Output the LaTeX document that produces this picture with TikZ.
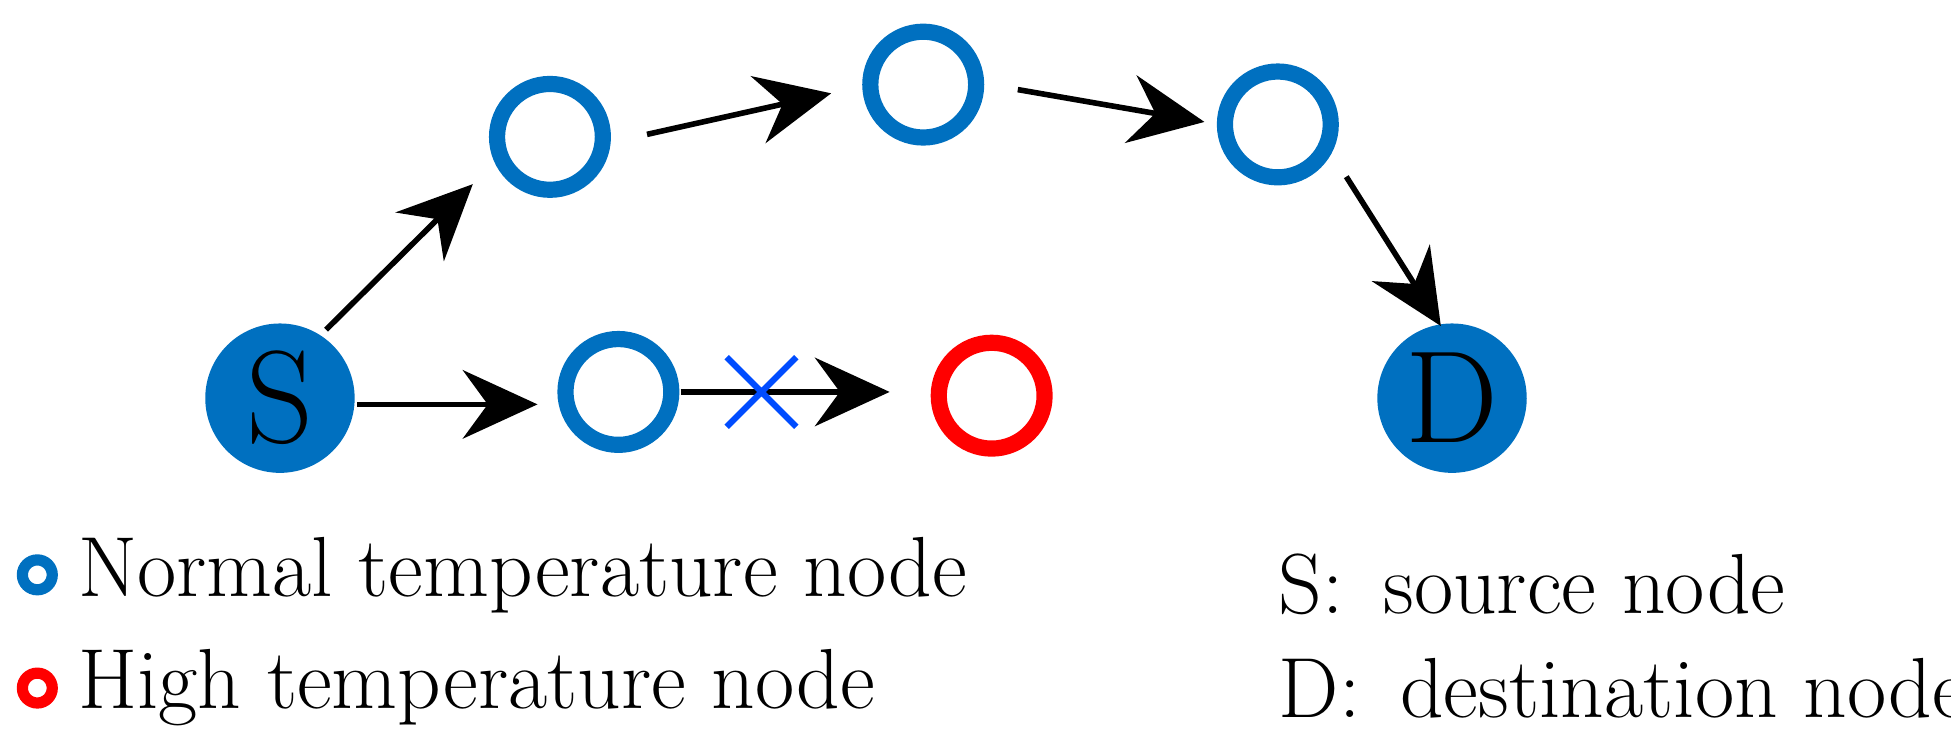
\documentclass[tikz,border=0pt]{standalone}
\usetikzlibrary{arrows.meta,calc}
\definecolor{nb}{HTML}{0070C0}
\begin{document}
\begin{tikzpicture}[x=0.01cm,y=-0.01cm,
  ring/.style={circle,draw=nb,line width=1.3mm,minimum size=0.85cm,inner sep=0},
  hot/.style={ring,draw=red},
  full/.style={circle,fill=nb,minimum size=1.2cm,inner sep=0,font=\fontsize{30}{32}\selectfont},
  arr/.style={line width=0.45mm,-{Stealth[length=6mm,width=5.5mm,inset=2mm]}},
  lab/.style={anchor=west,inner sep=0,font=\fontsize{19.5}{24}\selectfont}]
\useasboundingbox (0,0) rectangle (1568,600);
\node[full] (s) at (225,320) {S};
\node[full] (d) at (1167,320) {D};
\node[ring] (t1) at (442,110) {};
\node[ring] (t2) at (742,68) {};
\node[ring] (t3) at (1027,100) {};
\node[ring] (m) at (497,315) {};
\node[hot] (r) at (797,318) {};
\coordinate (a1) at (262,265); \coordinate (b1) at (380,148);
\coordinate (a2) at (520,108); \coordinate (b2) at (668,75);
\coordinate (a3) at (818,72); \coordinate (b3) at (968,98);
\coordinate (a4) at (1082,142); \coordinate (b4) at (1158,262);
\coordinate (a5) at (287,325); \coordinate (b5) at (432,325);
\coordinate (a6) at (547,315); \coordinate (b6) at (715,315);
\draw[arr] (a1) -- (b1);
\draw[arr] (a2) -- (b2);
\draw[arr] (a3) -- (b3);
\draw[arr] (a4) -- (b4);
\draw[arr] (a5) -- (b5);
\draw[arr] (a6) -- (b6);
\coordinate (x) at (612,315);
\draw[blue!70!cyan,line width=0.5mm] ($(x)+(-28,-28)$) -- ($(x)+(28,28)$) ($(x)+(-28,28)$) -- ($(x)+(28,-28)$);
\node[circle,draw=nb,line width=0.9mm,minimum size=0.24cm,inner sep=0] (lg1) at (30,462) {};
\node[circle,draw=red,line width=0.9mm,minimum size=0.24cm,inner sep=0] (lg2) at (30,553) {};
\node[lab] (t_n) at (62,462) {Normal temperature node};
\node[lab] (t_h) at (62,553) {High temperature node};
\node[lab] (t_s) at (1027,470) {S:\, source node};
\node[lab] (t_d) at (1027,553) {D:\, destination node};
\end{tikzpicture}
\end{document}
